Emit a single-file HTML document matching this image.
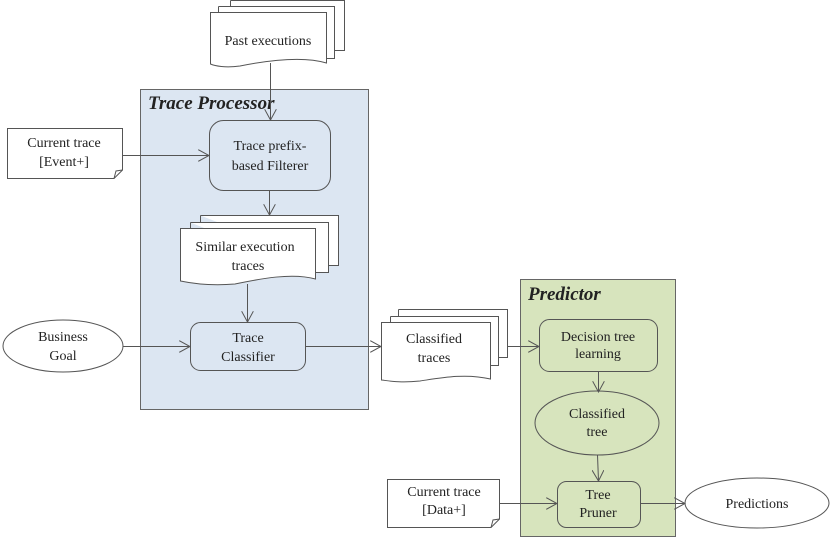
<!DOCTYPE html>
<html><head><meta charset="utf-8"><style>body{margin:0;background:#fff}svg{display:block}text{font-family:"Liberation Serif",serif;font-size:14px;fill:#222}</style></head><body>
<svg width="830" height="537" viewBox="0 0 830 537" xmlns="http://www.w3.org/2000/svg">
<defs><marker id="a" markerWidth="12" markerHeight="12" refX="11" refY="6" orient="auto" markerUnits="userSpaceOnUse"><path d="M0,0 L11,6 L0,12" fill="none" stroke="#555" stroke-width="1"/></marker></defs>
<g stroke="#666" stroke-width="1">
<rect x="140.5" y="89.5" width="228" height="320" fill="#dce6f2"/>
<rect x="520.5" y="279.5" width="155" height="257" fill="#d7e4bd"/>
</g>
<text x="148" y="109" style="font-size:19px;font-style:italic;font-weight:bold">Trace Processor</text>
<text x="528" y="300" style="font-size:19px;font-style:italic;font-weight:bold">Predictor</text>
<g stroke="#555" stroke-width="1" fill="#fff">
<!-- Past executions -->
<path d="M230.5,0.5 H344.5 V50.5 H330"/>
<path d="M218.5,6.5 H334.5 V58.5 H326 M218.5,6.5 V12"/>
<path d="M210.5,12.5 H326.5 V63 C300,55 260,62 240,66 C225,68 215,66 210.5,64 Z"/>
<path d="M230.5,0.5 V6"/>
<!-- Similar -->
<path d="M200.5,215.5 H338.5 V265.5 H328 M200.5,215.5 V222"/>
<path d="M190.5,222.5 H328.5 V272.5 H315 M190.5,222.5 V228"/>
<path d="M180.5,228.5 H315.5 V279 C290,272 255,280 235,284 C210,286 190,283 180.5,281 Z"/>
<!-- Classified traces -->
<path d="M398.5,309.5 H507.5 V357.5 H498 M398.5,309.5 V316"/>
<path d="M390.5,316.5 H498.5 V365.5 H490 M390.5,316.5 V322"/>
<path d="M381.5,322.5 H490.5 V379 C465,373 440,378 420,381 C400,383 390,381 381.5,380 Z"/>
<!-- current traces -->
<path d="M7.5,128.5 H122.5 V170 L114,178.5 H7.5 Z"/>
<path d="M114,178.5 L116,171 L122.5,170" fill="none"/>
<path d="M387.5,479.5 H499.5 V519 L491,527.5 H387.5 Z"/>
<path d="M491,527.5 L493,520 L499.5,519" fill="none"/>
<!-- process boxes -->
<rect x="209.5" y="120.5" width="121" height="70" rx="14" fill="#dce6f2"/>
<rect x="190.5" y="322.5" width="115" height="48" rx="10" fill="#dce6f2"/>
<rect x="539.5" y="319.5" width="118" height="52" rx="10" fill="#d7e4bd"/>
<rect x="557.5" y="481.5" width="83" height="46" rx="9" fill="#d7e4bd"/>
<ellipse cx="597" cy="423" rx="62" ry="32" fill="#d7e4bd"/>
<ellipse cx="63" cy="346" rx="60" ry="26"/>
<ellipse cx="757" cy="503" rx="72" ry="25"/>
</g>
<g stroke="#555" stroke-width="1" fill="none" marker-end="url(#a)">
<path d="M270.5,63 V120"/>
<path d="M269.5,191 V215"/>
<path d="M247.5,284 V322"/>
<path d="M122,155.5 H209"/>
<path d="M123,346.5 H190"/>
<path d="M306,346.5 H381"/>
<path d="M507,346.5 H539"/>
<path d="M598.5,372 V392"/>
<path d="M597.5,455 L598.5,481"/>
<path d="M500,503.5 H557"/>
<path d="M641,503.5 H685"/>
</g>
<g text-anchor="middle">
<text x="268" y="45">Past executions</text>
<text x="64" y="147">Current trace</text><text x="64" y="166">[Event+]</text>
<text x="270" y="150">Trace prefix-</text><text x="270" y="170">based Filterer</text>
<text x="245" y="251">Similar execution</text><text x="248" y="270">traces</text>
<text x="63" y="341">Business</text><text x="63" y="360">Goal</text>
<text x="248" y="342">Trace</text><text x="248" y="361">Classifier</text>
<text x="434" y="343">Classified</text><text x="434" y="362">traces</text>
<text x="598" y="341">Decision tree</text><text x="598" y="358">learning</text>
<text x="597" y="418">Classified</text><text x="597" y="436">tree</text>
<text x="444" y="496">Current trace</text><text x="444" y="514">[Data+]</text>
<text x="598" y="499">Tree</text><text x="598" y="517">Pruner</text>
<text x="757" y="508">Predictions</text>
</g>
</svg>
</body></html>
